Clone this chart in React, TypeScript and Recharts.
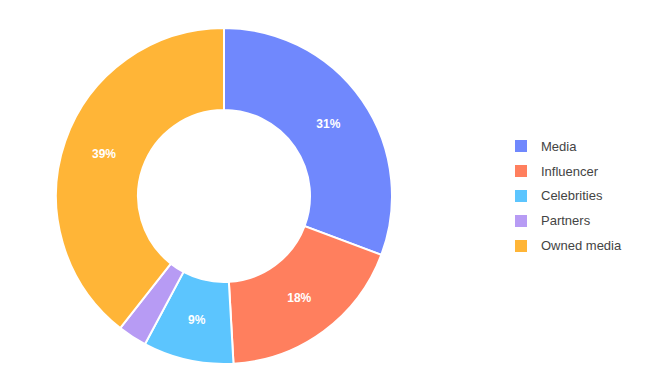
import { Cell, Legend, Pie, PieChart } from "recharts";

const channels = ["Media", "Influencer", "Celebrities", "Partners", "Owned media"];
const shares = [30.7, 18.4, 8.7, 2.8, 39.4];
const colors = ["#7088FD", "#FF7F5E", "#5CC5FE", "#B79BF4", "#FFB537"];

const data = channels.map((name, i) => ({ name, value: shares[i] }));

const RADIAN = Math.PI / 180;

function renderLabel(props: any) {
  const { cx, cy, midAngle, innerRadius, outerRadius, value } = props;
  if (value < 5) return null;
  const r = (innerRadius + outerRadius) / 2;
  const x = cx + r * Math.cos(-midAngle * RADIAN);
  const y = cy + r * Math.sin(-midAngle * RADIAN);
  return (
    <text
      x={x}
      y={y}
      fill="#fff"
      textAnchor="middle"
      dominantBaseline="central"
      style={{ fontSize: 12, fontWeight: 700, fontFamily: "Liberation Sans, Arial, sans-serif" }}
    >
      {`${Math.round(value)}%`}
    </text>
  );
}

function LegendList() {
  return (
    <div style={{ fontFamily: "Liberation Sans, Arial, sans-serif", fontSize: 13, color: "#444" }}>
      {channels.map((name, i) => (
        <div key={name} style={{ display: "flex", alignItems: "center", height: 24.8 }}>
          <span
            style={{
              display: "inline-block",
              width: 12,
              height: 12,
              background: colors[i],
              marginRight: 14,
            }}
          />
          <span>{name}</span>
        </div>
      ))}
    </div>
  );
}

export default function App() {
  return (
    <div style={{ position: "fixed", top: 0, left: 0, width: 656, height: 392, background: "#fff" }}>
      <PieChart width={656} height={392} margin={{ top: 0, right: 0, bottom: 0, left: 0 }}>
        <Pie
          data={data}
          dataKey="value"
          nameKey="name"
          cx={224}
          cy={196}
          innerRadius={86}
          outerRadius={168}
          startAngle={90}
          endAngle={-270}
          stroke="#fff"
          strokeWidth={2}
          label={renderLabel}
          labelLine={false}
          isAnimationActive={false}
        >
          {data.map((d, i) => (
            <Cell key={d.name} fill={colors[i]} />
          ))}
        </Pie>
        <Legend
          content={() => <LegendList />}
          wrapperStyle={{ position: "absolute", left: 515, top: 134, width: 140 }}
        />
      </PieChart>
    </div>
  );
}
